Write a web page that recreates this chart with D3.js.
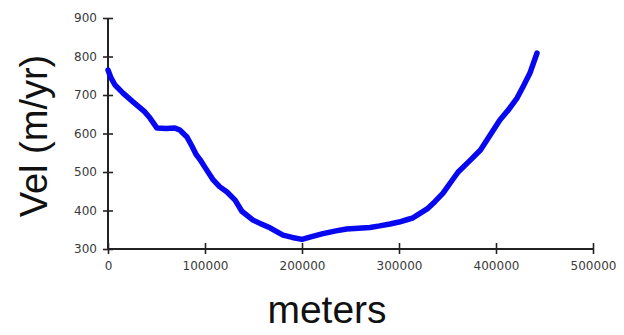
<!DOCTYPE html>
<html>
<head>
<meta charset="utf-8">
<script src="https://cdn.jsdelivr.net/npm/d3@7"></script>
<style>
  html, body { margin: 0; padding: 0; background: #fff; }
  svg { display: block; }
</style>
</head>
<body>
<svg id="chart" width="624" height="335"></svg>
<script>
// Distance along the profile (m) and velocity (m/yr)
const distance = [0, 3000, 7200, 15500, 25800, 38000, 43300, 50500, 60000, 69000, 74000,
  81400, 86600, 91000, 96000, 100000, 108000, 115000, 122700, 131000, 138000, 149500,
  158000, 167000, 180400, 190000, 200000, 210000, 221600, 235000, 246000, 258000, 270000,
  280000, 290700, 300000, 308000, 314500, 320000, 329000, 337000, 345400, 353000, 361000,
  372000, 384000, 394000, 404000, 413000, 421700, 428000, 435000, 442300];
const velocity = [765, 745, 726, 705, 682, 656, 640, 614, 613, 614, 609,
  591, 567, 545, 528, 512, 481, 462, 448, 427, 398, 375,
  365, 355, 336, 330, 325, 332, 340, 347, 352, 354, 356,
  360, 365, 370, 376, 381, 390, 404, 423, 445, 472, 500,
  527, 557, 596, 635, 662, 692, 722, 757, 809];

const xTicks = [0, 100000, 200000, 300000, 400000, 500000];
const yTicks = [300, 400, 500, 600, 700, 800, 900];
const xTitle = "meters";
const yTitle = "Vel (m/yr)";

const svg = d3.select("#chart");
const x = d3.scaleLinear().domain([0, 500000]).range([108, 593]);
const y = d3.scaleLinear().domain([300, 900]).range([249, 18]);

const axisColor = "#222";
const tickFont = "DejaVu Sans, sans-serif";

// x axis
const gx = svg.append("g").attr("transform", `translate(0,${y(300)})`)
  .call(d3.axisBottom(x).tickValues(xTicks).tickFormat(d3.format("d")).tickSize(5).tickPadding(7));
gx.select(".domain").attr("stroke", axisColor).attr("stroke-width", 2).attr("d", `M${x(0)},0H${x(500000)}`);
gx.selectAll(".tick line").attr("stroke", axisColor).attr("stroke-width", 1.6).attr("y1", -6).attr("y2", 5);
gx.selectAll(".tick text").attr("fill", "#3a3a3a").style("font-family", tickFont).style("font-size", "12px");

// y axis
const gy = svg.append("g").attr("transform", `translate(${x(0)},0)`)
  .call(d3.axisLeft(y).tickValues(yTicks).tickFormat(d3.format("d")).tickSize(5).tickPadding(6));
gy.select(".domain").attr("stroke", axisColor).attr("stroke-width", 2).attr("d", `M0,${y(900)}V${y(300)}`);
gy.selectAll(".tick line").attr("stroke", axisColor).attr("stroke-width", 1.6).attr("x1", -5).attr("x2", 5);
gy.selectAll(".tick text").attr("fill", "#3a3a3a").style("font-family", tickFont).style("font-size", "12px");

// velocity profile
const line = d3.line().x((d, i) => x(distance[i])).y(d => y(d));
svg.append("path")
  .datum(velocity)
  .attr("fill", "none")
  .attr("stroke", "#0808f0")
  .attr("stroke-width", 5.5)
  .attr("stroke-linejoin", "round")
  .attr("stroke-linecap", "round")
  .attr("d", line);

// axis titles
svg.append("text")
  .attr("x", 327).attr("y", 323)
  .attr("text-anchor", "middle")
  .style("font-family", "Liberation Sans, Arial, sans-serif")
  .style("font-size", "39px")
  .attr("fill", "#111")
  .text(xTitle);

svg.append("text")
  .attr("transform", "translate(47,136) rotate(-90)")
  .attr("text-anchor", "middle")
  .style("font-family", "Liberation Sans, Arial, sans-serif")
  .style("font-size", "38px")
  .attr("fill", "#111")
  .text(yTitle);
</script>
</body>
</html>
